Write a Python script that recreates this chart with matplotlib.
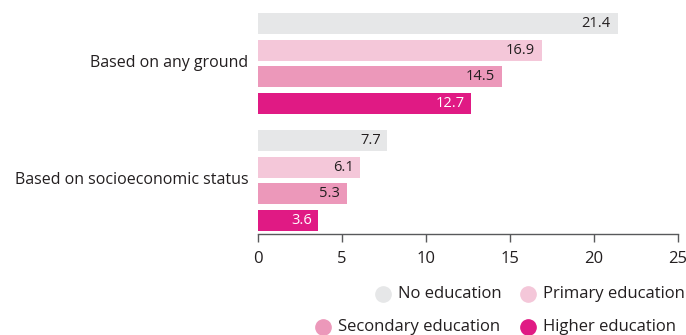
import matplotlib
matplotlib.use('Agg')
import matplotlib.pyplot as plt
from matplotlib.lines import Line2D
import numpy as np

plt.rcParams['font.family'] = ['Open Sans', 'DejaVu Sans']

groups = ['Based on any ground', 'Based on socioeconomic status']
levels = ['No education', 'Primary education', 'Secondary education', 'Higher education']
no_edu = [21.4, 7.7]
primary = [16.9, 6.1]
secondary = [14.5, 5.3]
higher = [12.7, 3.6]
xticks = [0, 5, 10, 15, 20, 25]

series = [no_edu, primary, secondary, higher]
colors = ['#e6e7e8', '#f4c7d9', '#ec98ba', '#e01a84']
text_colors = ['#231f20', '#231f20', '#231f20', 'white']

W, H = 686, 335
fig = plt.figure(figsize=(W / 100, H / 100), dpi=100)
ax = fig.add_axes([258 / W, (H - 234) / H, 420 / W, (234 - 10) / H])

pitch = 0.228
height = 0.179
centers = np.arange(len(groups))

for i, (vals, c, tc) in enumerate(zip(series, colors, text_colors)):
    ypos = centers + (i - 1.5) * pitch
    ax.barh(ypos, vals, height=height, color=c, edgecolor='none')
    for y, v in zip(ypos, vals):
        ax.text(v - 0.4, y, '{:.1f}'.format(v), ha='right', va='center',
                fontsize=10.5, color=tc)

lo = centers[0] - 1.5 * pitch - height / 2 - 0.026
hi = centers[-1] + 1.5 * pitch + height / 2 + 0.026
ax.set_ylim(hi, lo)
ax.set_xlim(0, 25)
ax.set_xticks(xticks)
ax.set_yticks(centers - 0.02)
ax.set_yticklabels(groups, fontsize=11.5, color='#231f20')
ax.tick_params(axis='y', length=0, pad=7)
ax.tick_params(axis='x', length=6, width=1, color='#58595b', labelsize=12,
               labelcolor='#231f20', pad=6)
for s in ['top', 'right', 'left']:
    ax.spines[s].set_visible(False)
ax.spines['bottom'].set_color('#58595b')
ax.spines['bottom'].set_linewidth(1)

# legend, laid out by hand in pixel positions
legend_pos = [(383, 294), (528, 294), (323, 327), (528, 327)]
for (px, py), lab, c in zip(legend_pos, levels, colors):
    fx, fy = px / W, (H - py) / H
    fig.add_artist(Line2D([fx], [fy], marker='o', markersize=11, color=c,
                          linestyle='none', transform=fig.transFigure))
    fig.text(fx + 15 / W, fy, lab, ha='left', va='center', fontsize=12,
             color='#231f20')

fig.savefig('out.png', dpi=100)
